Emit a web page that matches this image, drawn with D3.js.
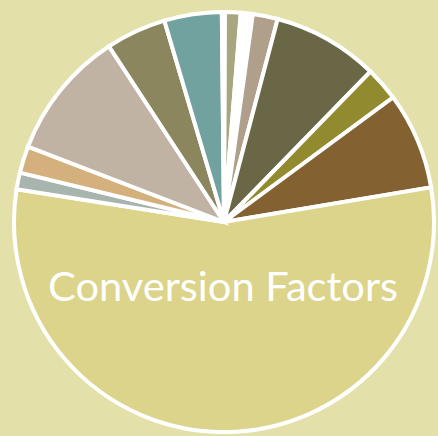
<!DOCTYPE html>
<html><head><meta charset="utf-8">
<script src="https://cdn.jsdelivr.net/npm/d3@7"></script>
<style>html,body{margin:0;padding:0;background:#e4e0a9;}svg{display:block;}</style>
</head><body>
<svg id="chart" width="438" height="436"></svg>
<script>
const categories = ["A","B","C","D","E","F","Conversion Factors","H","I","J","K","L","M"];
const values = [1.22, 0.92, 1.92, 8.17, 2.61, 7.47, 55.14, 1.28, 2.06, 9.94, 4.64, 4.42, 0.22];
const colors = ["#a8a67e","#ffffff","#b09f8a","#6a6747","#918a2f","#846130","#dbd48a","#a8b4ae","#d4b07c","#c1b3a3","#8c865e","#72a2a0","#ffffff"];
const labelText = "Conversion Factors";

const svg = d3.select("#chart");
const W = 438, H = 436;
svg.append("rect").attr("width", W).attr("height", H).attr("fill", "#e4e0a9");
const cx = 224, cy = 222, R = 210;
const startOffset = 0.2 * Math.PI / 180;
const pie = d3.pie().sort(null).value(d => d)
  .startAngle(startOffset).endAngle(startOffset + 2 * Math.PI);
const arc = d3.arc().innerRadius(0).outerRadius(R);
const g = svg.append("g").attr("transform", `translate(${cx},${cy})`);
g.selectAll("path").data(pie(values)).join("path")
  .attr("d", arc)
  .attr("fill", (d, i) => colors[i])
  .attr("stroke", "#ffffff")
  .attr("stroke-width", 4)
  .attr("stroke-linejoin", "miter");
svg.append("text")
  .attr("x", 223).attr("y", 301)
  .attr("text-anchor", "middle")
  .attr("font-family", "Lato, 'Open Sans', sans-serif")
  .attr("font-size", 40)
  .attr("fill", "#ffffff")
  .attr("textLength", 350)
  .attr("lengthAdjust", "spacingAndGlyphs")
  .text(labelText);
</script>
</body></html>
